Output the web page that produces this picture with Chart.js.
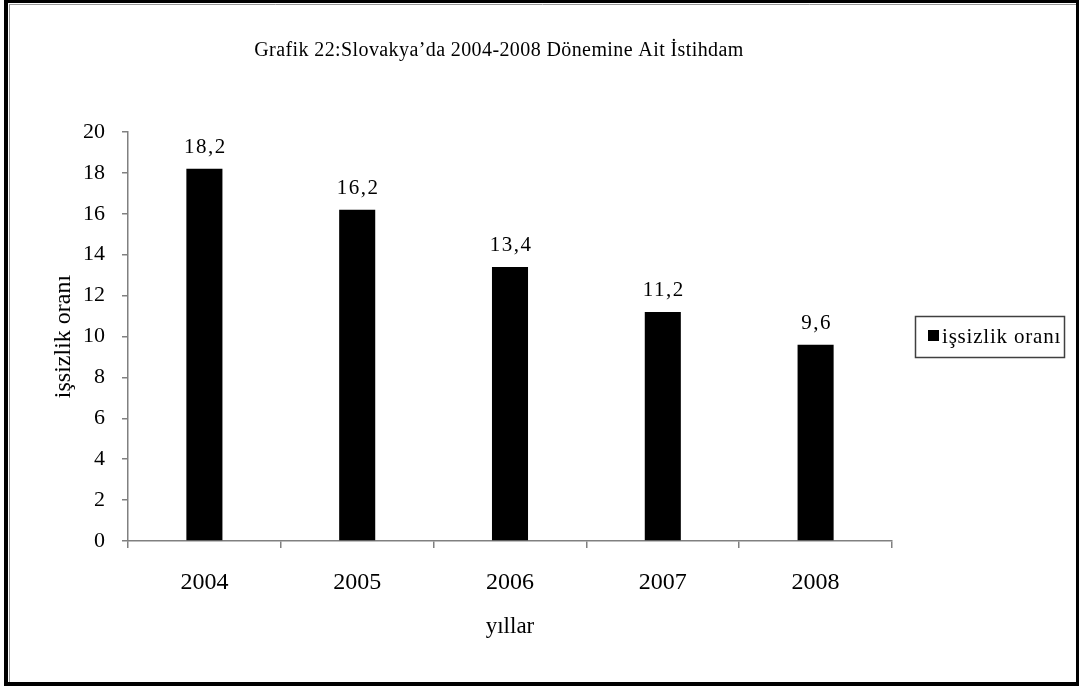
<!DOCTYPE html>
<html>
<head>
<meta charset="utf-8">
<script src="https://cdn.jsdelivr.net/npm/chart.js@4.4.0/dist/chart.umd.min.js"></script>
<style>
  html, body { margin: 0; padding: 0; background: #fff; }
  canvas { display: block; }
</style>
</head>
<body>
<canvas id="chart" width="1079" height="686"></canvas>
<script>
// Yıllar ve işsizlik oranı
const years = ['2004', '2005', '2006', '2007', '2008'];
const unemployment = [18.2, 16.2, 13.4, 11.2, 9.6];
const yTicks = [0, 2, 4, 6, 8, 10, 12, 14, 16, 18, 20];

const chartTitle = 'Grafik 22:Slovakya\u2019da 2004-2008 Dönemine Ait İstihdam';
const seriesLabel = 'işsizlik oranı';
const serif = '"Liberation Serif", "Times New Roman", serif';
const axisGray = '#808080';

// çerçeve, başlık, lejant ve değer etiketleri
const decorations = {
  id: 'decorations',
  afterDatasetsDraw(chart) {
    const ctx = chart.ctx;
    const meta = chart.getDatasetMeta(0);
    ctx.save();
    ctx.fillStyle = '#000';
    ctx.font = '21px ' + serif;
    ctx.letterSpacing = '1.5px';
    ctx.textAlign = 'center';
    ctx.textBaseline = 'alphabetic';
    meta.data.forEach((bar, i) => {
      const txt = String(unemployment[i]).replace('.', ',');
      ctx.fillText(txt, bar.x + 1, bar.y - 16);
    });
    ctx.restore();
  },
  afterDraw(chart) {
    const ctx = chart.ctx;
    ctx.save();
    // frame
    ctx.fillStyle = '#000';
    ctx.fillRect(4, 0, 1075, 3);
    ctx.fillRect(4, 0, 4, 686);
    ctx.fillRect(1076, 0, 3, 686);
    ctx.fillRect(4, 682, 1075, 4);
    ctx.strokeStyle = '#999';
    ctx.lineWidth = 1;
    ctx.beginPath();
    ctx.moveTo(9.5, 4); ctx.lineTo(9.5, 682);
    ctx.moveTo(9, 4.5); ctx.lineTo(1076, 4.5);
    ctx.stroke();

    // title
    ctx.fillStyle = '#000';
    ctx.font = '20px ' + serif;
    ctx.letterSpacing = '0.4px';
    ctx.textAlign = 'center';
    ctx.textBaseline = 'middle';
    ctx.fillText(chartTitle, 499, 51);

    // legend
    ctx.strokeStyle = '#404040';
    ctx.lineWidth = 1.5;
    ctx.strokeRect(915.5, 316.5, 149, 41);
    ctx.fillStyle = chart.data.datasets[0].backgroundColor;
    ctx.fillRect(928, 330, 11, 11);
    ctx.fillStyle = '#000';
    ctx.font = '21px ' + serif;
    ctx.letterSpacing = '0.8px';
    ctx.textAlign = 'left';
    ctx.fillText(chart.data.datasets[0].label, 942, 337);
    ctx.restore();
  }
};

new Chart(document.getElementById('chart'), {
  type: 'bar',
  data: {
    labels: years,
    datasets: [{
      label: seriesLabel,
      data: unemployment,
      backgroundColor: '#000000',
      borderWidth: 0,
      barPercentage: 0.236,
      categoryPercentage: 1
    }]
  },
  options: {
    responsive: false,
    animation: false,
    layout: { padding: { top: 132, right: 187, bottom: 0, left: 0 } },
    plugins: {
      legend: { display: false },
      title: { display: false },
      tooltip: { enabled: false }
    },
    scales: {
      x: {
        afterFit: s => { s.height = 145; },
        grid: {
          offset: true,
          drawOnChartArea: false,
          drawTicks: true,
          tickLength: 7,
          tickColor: axisGray,
          lineWidth: 1.5
        },
        border: { color: axisGray, width: 1.5 },
        ticks: {
          color: '#000',
          padding: 20,
          font: { family: serif, size: 24 }
        },
        title: {
          display: true,
          text: 'yıllar',
          color: '#000',
          font: { family: serif, size: 23 },
          padding: { top: 0, bottom: 45 }
        }
      },
      y: {
        min: 0,
        max: 20,
        afterFit: s => { s.width = 128; },
        afterBuildTicks: s => { s.ticks = yTicks.map(v => ({ value: v })); },
        grid: {
          drawOnChartArea: false,
          drawTicks: true,
          tickLength: 6,
          tickColor: axisGray,
          lineWidth: 1.5
        },
        border: { color: axisGray, width: 1.5 },
        ticks: {
          color: '#000',
          padding: 17,
          font: { family: serif, size: 22 }
        },
        title: {
          display: true,
          text: 'işsizlik oranı',
          color: '#000',
          font: { family: serif, size: 24 },
          padding: { top: 49, bottom: 0 }
        }
      }
    }
  },
  plugins: [decorations]
});
</script>
</body>
</html>
